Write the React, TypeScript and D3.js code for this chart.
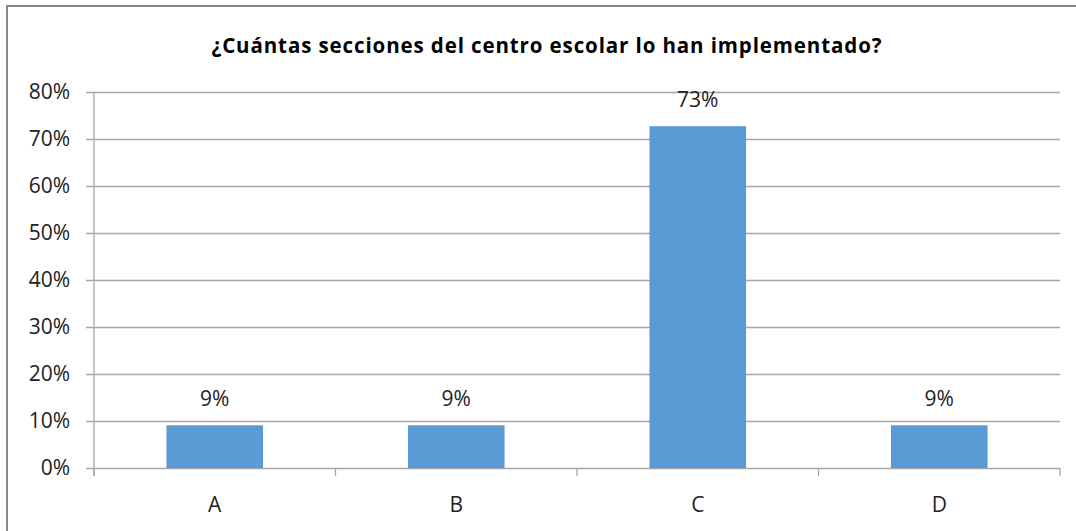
import React from "react";
import * as d3 from "d3";

const title = "¿Cuántas secciones del centro escolar lo han implementado?";
const categories = ["A", "B", "C", "D"];
const values = [1 / 11, 1 / 11, 8 / 11, 1 / 11];
const yTicks = [0, 0.1, 0.2, 0.3, 0.4, 0.5, 0.6, 0.7, 0.8];

const W = 1076;
const H = 531;
const left = 94;
const right = 1060;
const top = 92;
const bottom = 468;
const font = "'Open Sans', 'Noto Sans', sans-serif";

export default function App() {
  const x = d3.scaleBand<string>().domain(categories).range([left, right]).paddingInner(0.6).paddingOuter(0.3);
  const y = d3.scaleLinear().domain([0, 0.8]).range([bottom, top]);
  const step = x.step();
  const boundaries = d3.range(categories.length + 1).map((i) => left + i * step);
  const fmt = d3.format(".0%");

  return (
    <svg width={W} height={H} style={{ position: "absolute", left: 0, top: 0, background: "#fff" }}>
      <rect x={7} y={6} width={W + 10} height={H + 10} fill="#fff" stroke="#888" strokeWidth={2} />
      <text x={546.5} y={53} textAnchor="middle" fontFamily={font} fontWeight="bold" fontSize={20.5} fill="#000"
        textLength={670} lengthAdjust="spacing">
        {title}
      </text>
      {yTicks.map((t) => (
        <g key={t}>
          <line x1={86} x2={right} y1={Math.round(y(t)) + 0.5} y2={Math.round(y(t)) + 0.5} stroke="#a6a6a6" strokeWidth={1.3} />
          <text x={70} y={y(t)} dy="0.35em" textAnchor="end" fontFamily={font} fontSize={21} fill="#222">
            {fmt(t)}
          </text>
        </g>
      ))}
      <line x1={left} x2={left} y1={top} y2={bottom + 8} stroke="#a6a6a6" strokeWidth={1.3} />
      {boundaries.map((b, i) => (
        <line key={i} x1={b} x2={b} y1={bottom} y2={bottom + 8} stroke="#a6a6a6" strokeWidth={1.3} />
      ))}
      {categories.map((c, i) => (
        <g key={c}>
          <rect x={x(c)!} y={y(values[i])} width={x.bandwidth()} height={bottom - y(values[i])} fill="#5b9bd5" />
          <text x={x(c)! + x.bandwidth() / 2} y={y(values[i]) - 19.5} textAnchor="middle" fontFamily={font} fontSize={21} fill="#222">
            {fmt(values[i])}
          </text>
          <text x={x(c)! + x.bandwidth() / 2} y={511.5} textAnchor="middle" fontFamily={font} fontSize={21} fill="#222">
            {c}
          </text>
        </g>
      ))}
    </svg>
  );
}
